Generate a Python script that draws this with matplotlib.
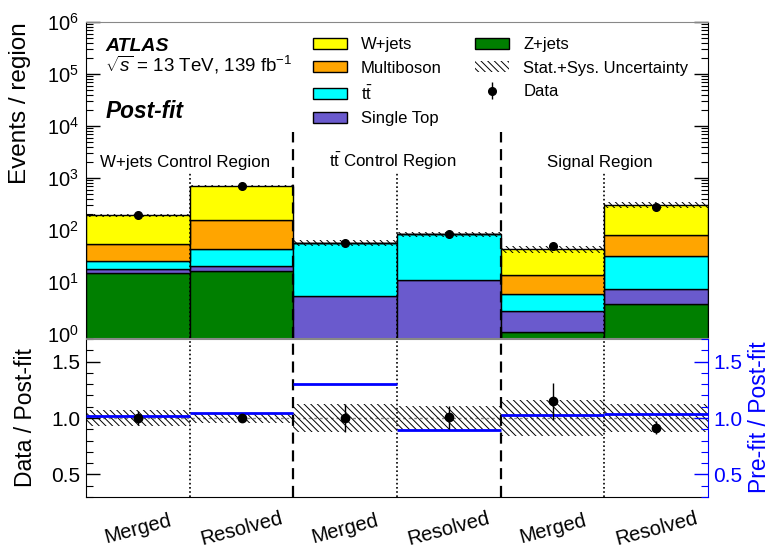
import numpy as np
import matplotlib
matplotlib.use("Agg")
import matplotlib.pyplot as plt
import matplotlib.transforms as mtransforms
from matplotlib.patches import Patch
from matplotlib.ticker import MultipleLocator, LogLocator, NullFormatter

plt.rcParams['font.family'] = ['Liberation Sans', 'DejaVu Sans']
plt.rcParams['mathtext.fontset'] = 'custom'
plt.rcParams['mathtext.rm'] = 'Liberation Sans'
plt.rcParams['mathtext.it'] = 'Liberation Sans:italic'
plt.rcParams['mathtext.bf'] = 'Liberation Sans:bold'
plt.rcParams['hatch.linewidth'] = 0.7

HATCH = "\\" * 5

# -----------------------------------------------
# Data
# -----------------------------------------------
bin_labels = ["Merged", "Resolved", "Merged", "Resolved", "Merged", "Resolved"]
region_labels = ["W+jets Control Region",
                 r"$\mathregular{t\bar{t}}$ Control Region",
                 "Signal Region"]

# post-fit yields per bin (stack order bottom -> top)
z_jets = [15.1, 16.5, 0.0, 0.0, 1.12, 3.72]
single_top = [2.9, 3.5, 5.4, 10.9, 1.61, 3.58]
ttbar = [7.3, 22.5, 51.6, 71.7, 3.07, 24.3]
multiboson = [27.7, 110.5, 0.0, 0.0, 7.6, 49.4]
w_jets = [141.0, 558.0, 0.0, 0.0, 29.6, 226.0]

data = [194, 711, 57, 83, 49.3, 281]
data_err_ratio = [0.065, 0.035, 0.125, 0.105, 0.16, 0.055]
unc_rel = [0.068, 0.04, 0.128, 0.11, 0.16, 0.125]
prefit_ratio = [1.015, 1.047, 1.298, 0.898, 1.023, 1.038]

samples = [("Z+jets", z_jets, "#007f00"),
           ("Single Top", single_top, "#6a5acd"),
           (r"$\mathregular{t\bar{t}}$", ttbar, "#00ffff"),
           ("Multiboson", multiboson, "#ffa500"),
           ("W+jets", w_jets, "#ffff00")]

W, H = 771, 548
fig = plt.figure(figsize=(W / 100, H / 100), dpi=100)
ax = fig.add_axes([86 / W, 1 - 338 / H, 622 / W, 316 / H])
rax = fig.add_axes([86 / W, 1 - 497 / H, 622 / W, 158 / H])

x = np.arange(len(bin_labels)) + 0.5
total = np.zeros(len(x))
patches = {}
for name, vals, col in samples:
    vals = np.array(vals)
    b = ax.bar(x, vals, width=1.0, bottom=total, color=col,
               edgecolor="black", linewidth=1.0, zorder=2)
    patches[name] = b
    total = total + vals

unc = np.array(unc_rel)
ax.bar(x, 2 * unc * total, width=1.0, bottom=total * (1 - unc), fill=False,
       hatch=HATCH, linewidth=0, edgecolor="black", zorder=3)
data = np.array(data, dtype=float)
derr = np.array(data_err_ratio) * total
eb = ax.errorbar(x, data, yerr=derr, fmt="o", color="black", ms=5.5,
                 elinewidth=1, capsize=0, zorder=5)

ax.set_yscale("log")
ax.set_xlim(0, 6)
ax.set_ylim(0.84, 1.0e6)

# region separators
ax.vlines([2, 4], 0.84, 7600, colors="black", linestyles=(0, (5, 3)),
          linewidth=1.6, zorder=4)
ax.vlines([1, 3, 5], 0.84, 1260, colors="black", linestyles=(0, (1, 1.5)),
          linewidth=1.2, zorder=4)

# region titles
ytr = mtransforms.blended_transform_factory(ax.transData, ax.transAxes)
for i, lab in enumerate(region_labels):
    ax.text(2 * i + 0.96, 0.542, lab, transform=ytr, ha="center",
            va="baseline", fontsize=12.2)

ax.yaxis.set_major_locator(LogLocator(base=10, numticks=10))
ax.yaxis.set_minor_locator(LogLocator(base=10, subs=np.arange(2, 10), numticks=20))
ax.yaxis.set_minor_formatter(NullFormatter())
ax.tick_params(axis="y", which="both", direction="in", left=True, right=True,
               labelsize=14.5, pad=5)
ax.tick_params(axis="y", which="major", length=10, width=1)
ax.tick_params(axis="y", which="minor", length=5, width=0.8)
ax.tick_params(axis="x", bottom=False, labelbottom=False)
ax.spines["top"].set_color("#888888")
ax.spines["bottom"].set_color("#888888")

# legend
handles = [patches["W+jets"], patches["Multiboson"], patches[r"$\mathregular{t\bar{t}}$"],
           patches["Single Top"], patches["Z+jets"],
           Patch(facecolor="none", edgecolor="black", hatch=HATCH, linewidth=0),
           eb]
labels = ["W+jets", "Multiboson", r"$\mathregular{t\bar{t}}$", "Single Top",
          "Z+jets", "Stat.+Sys. Uncertainty", "Data"]
ax.legend(handles, labels, ncol=2, loc="upper left", frameon=False,
          bbox_to_anchor=(313 / W, 1 - 37 / H), bbox_transform=fig.transFigure,
          fontsize=12, handlelength=2.04, handleheight=0.66, handletextpad=0.84,
          columnspacing=2.0, labelspacing=0.52, borderpad=0, borderaxespad=0)

fig.text(105 / W, 1 - 50.7 / H, "ATLAS", fontsize=14, weight="bold",
         style="italic", va="baseline")
fig.text(105 / W, 1 - 71 / H, r"$\sqrt{s}$ = 13 TeV, 139 fb$^{-1}$",
         fontsize=13.5, va="baseline")
fig.text(106 / W, 1 - 118 / H, "Post-fit", fontsize=16.3, weight="bold",
         style="italic", va="baseline")

# -----------------------------------------------
# ratio panel
# -----------------------------------------------
rax.bar(x, 2 * unc, width=1.0, bottom=1 - unc, fill=False, hatch=HATCH,
        linewidth=0, edgecolor="black", zorder=2)
rax.axhline(1.0, color="#888888", linestyle=(0, (2, 2)), linewidth=1, zorder=1)
rax.hlines(prefit_ratio, x - 0.5, x + 0.5, colors="blue", linewidth=2, zorder=4)
rax.errorbar(x, data / total, yerr=data_err_ratio, fmt="o", color="black",
             ms=6, elinewidth=1, capsize=0, zorder=5)
rax.axvline(2, color="black", linestyle=(0, (5, 3)), linewidth=1.6, zorder=3)
rax.axvline(4, color="black", linestyle=(0, (5, 3)), linewidth=1.6, zorder=3)
for xv in [1, 3, 5]:
    rax.axvline(xv, color="black", linestyle=(0, (1, 1.5)), linewidth=1.2, zorder=3)

rax.set_xlim(0, 6)
rax.set_ylim(0.3, 1.7)
rax.yaxis.set_major_locator(MultipleLocator(0.5))
rax.yaxis.set_minor_locator(MultipleLocator(0.1))
rax.yaxis.set_major_formatter(plt.FuncFormatter(lambda v, p: f"{v:.1f}"))
rax.tick_params(axis="y", which="both", direction="in", left=True, right=False,
                labelsize=15, pad=4)
rax.tick_params(axis="y", which="major", length=10, width=1)
rax.tick_params(axis="y", which="minor", length=5, width=0.8)
rax.tick_params(axis="x", bottom=False, labelbottom=False)
rax.spines["top"].set_color("#888888")
rax.spines["right"].set_visible(False)

rax2 = rax.twinx()
rax2.set_ylim(0.3, 1.7)
rax2.yaxis.set_major_locator(MultipleLocator(0.5))
rax2.yaxis.set_minor_locator(MultipleLocator(0.1))
rax2.yaxis.set_major_formatter(plt.FuncFormatter(lambda v, p: f"{v:.1f}"))
rax2.tick_params(axis="y", which="both", direction="in", colors="blue",
                 labelsize=15, pad=4)
rax2.tick_params(axis="y", which="major", length=10, width=1)
rax2.tick_params(axis="y", which="minor", length=5, width=0.8)
rax2.spines["right"].set_color("blue")
rax2.spines["top"].set_visible(False)
rax2.spines["left"].set_visible(False)
rax2.spines["bottom"].set_visible(False)

xtr = mtransforms.blended_transform_factory(rax.transData, rax.transAxes)
for xi, lab in zip(x, bin_labels):
    rax.text(xi, -0.2, lab, transform=xtr, rotation=15, ha="center",
             va="center", rotation_mode="anchor", fontsize=14.5)

fig.text(20 / W, 1 - 22 / H, "Events / region", rotation=90, ha="center",
         va="top", fontsize=17.5)
fig.text(25 / W, 1 - 418 / H, "Data / Post-fit", rotation=90, ha="center",
         va="center", fontsize=16.5)
fig.text(760 / W, 1 - 417 / H, "Pre-fit / Post-fit", rotation=90, ha="center",
         va="center", fontsize=16.5, color="blue")

fig.savefig("out.png", dpi=100)
